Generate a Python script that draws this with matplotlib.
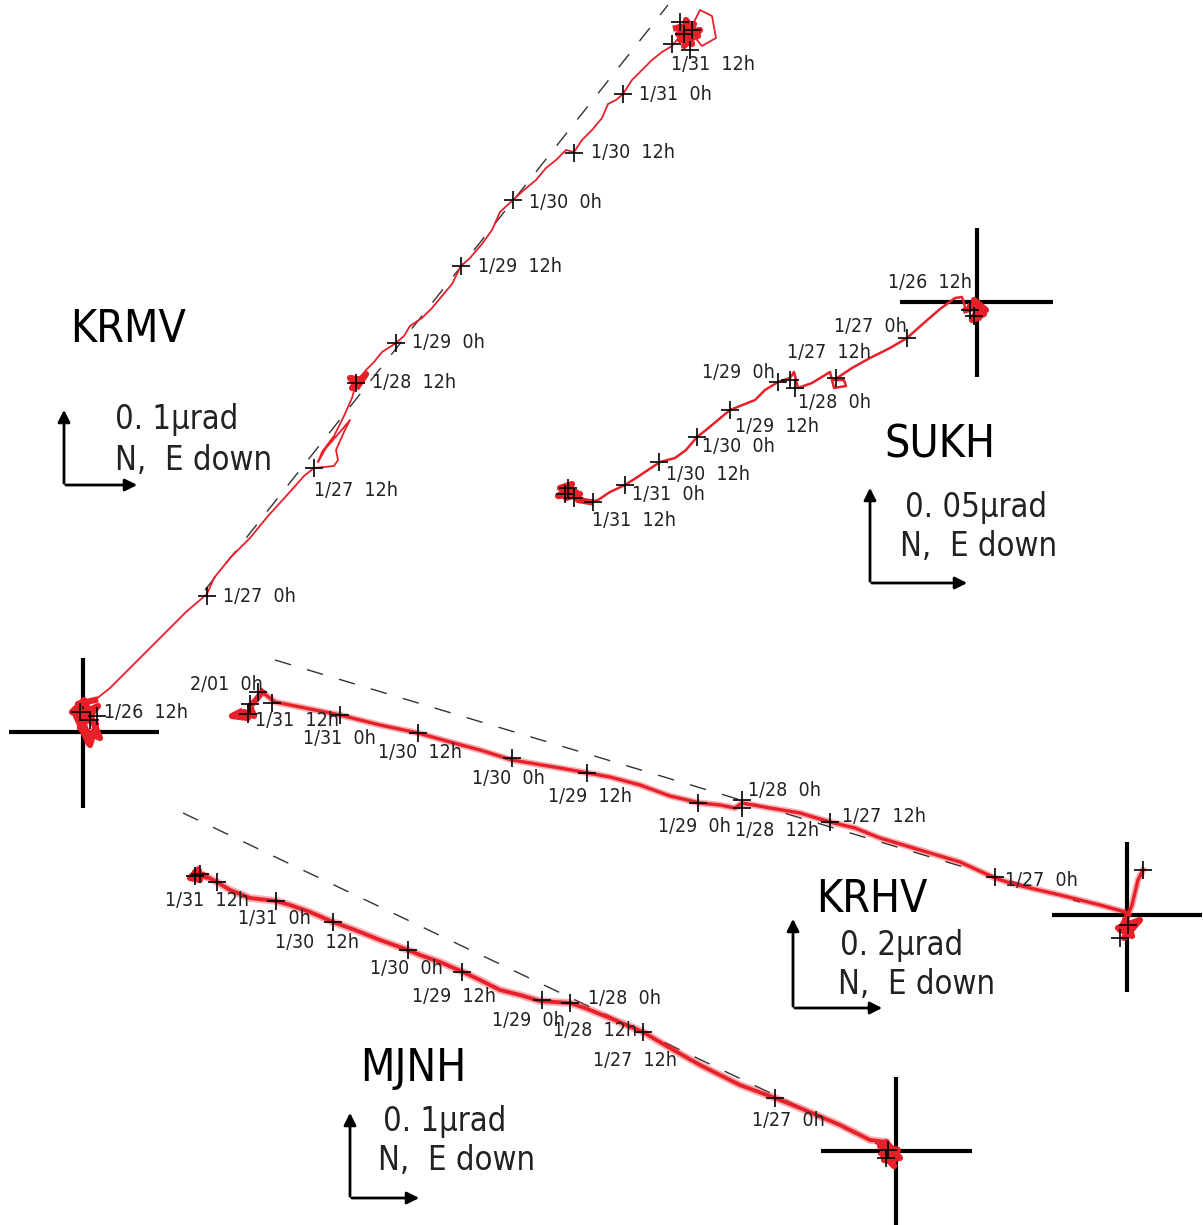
import matplotlib.pyplot as plt
from matplotlib import font_manager

# *********************
# DATA (positions, pixel space, y down)
# *********************
krmv_trace = [(95, 700), (110, 688), (122, 676), (132, 666), (150, 648),
              (168, 630), (186, 612), (200, 600), (207, 594), (214, 578), (230, 558), (250, 538),
              (268, 516), (288, 494), (304, 476), (314, 468), (334, 466), (338, 460), (336, 450),
              (344, 432), (350, 420), (340, 432), (326, 448), (318, 462), (322, 452), (334, 436),
              (344, 416), (352, 398), (356, 384), (366, 370),
              (374, 362), (382, 352), (396, 343), (404, 336), (410, 326), (422, 318), (432, 308),
              (442, 296), (452, 284), (461, 266), (470, 258), (482, 244), (492, 230), (500, 212),
              (513, 200), (524, 190), (536, 180), (546, 168), (556, 160), (566, 150), (574, 152),
              (582, 140), (592, 130), (602, 118), (608, 104), (616, 100), (623, 94), (632, 80),
              (642, 70), (652, 60), (662, 52), (672, 46), (680, 36), (690, 30), (700, 10),
              (712, 16), (716, 38), (702, 46), (692, 34)]
krmv_blobs = [[(88, 742), (76, 716), (98, 706), (80, 728), (100, 738), (84, 700), (72, 712),
               (96, 724), (90, 745), (78, 704), (95, 700)],
              [(356, 384), (350, 378), (362, 380), (352, 388), (366, 374), (358, 386)],
              [(676, 28), (694, 24), (680, 40), (698, 36), (686, 20), (692, 44), (678, 34),
               (700, 30), (684, 46), (690, 30)]]
krmv_ticks = [(80, 712), (90, 720), (97, 716), (207, 596), (314, 468), (356, 383), (396, 343),
              (461, 266), (513, 200), (574, 153), (623, 94), (672, 44), (690, 50), (680, 22),
              (692, 30), (684, 34)]
krmv_labels = ['1/26  12h', '1/27  0h', '1/27  12h', '1/28  12h', '1/29  0h', '1/29  12h',
               '1/30  0h', '1/30  12h', '1/31  0h', '1/31  12h']
krmv_label_xy = [(104, 712), (223, 596), (314, 490), (372, 382), (412, 343), (478, 266),
                 (529, 202), (591, 153), (639, 94), (671, 64)]

sukh_trace = [(590, 502), (598, 500), (610, 492), (625, 485), (636, 478), (648, 470),
              (660, 462), (675, 458), (686, 450), (697, 437), (706, 430), (718, 420), (730, 410),
              (745, 404), (755, 400), (765, 390), (778, 382), (790, 378), (794, 372), (798, 388),
              (812, 383), (830, 372), (834, 388), (846, 386), (844, 380), (834, 380), (852, 368),
              (870, 358), (890, 348), (907, 338), (925, 322), (940, 309), (955, 298), (962, 297),
              (966, 310)]
sukh_blobs = [[(575, 492), (560, 488), (572, 484), (566, 498), (580, 494), (558, 496), (570, 488),
               (578, 500), (590, 502)],
              [(966, 310), (980, 306), (972, 320), (984, 314), (970, 306), (986, 310), (974, 300),
               (978, 318)]]
sukh_ticks = [(970, 310), (974, 316), (907, 338), (836, 378), (790, 380), (795, 388), (778, 382),
              (730, 410), (697, 437), (659, 462), (625, 485), (593, 502), (568, 488), (565, 494),
              (574, 498)]
sukh_labels = ['1/26  12h', '1/27  0h', '1/27  12h', '1/29  0h', '1/28  0h', '1/29  12h',
               '1/30  0h', '1/30  12h', '1/31  0h', '1/31  12h']
sukh_label_xy = [(888, 283), (834, 326), (787, 353), (702, 373), (798, 403), (735, 426),
                 (702, 447), (666, 475), (632, 494), (592, 520)]

krhv_trace = [(1143, 870), (1138, 880), (1132, 905), (1128, 915), (1125, 912), (1100, 905),
              (1060, 895), (1030, 888), (1010, 883), (995, 878), (960, 862), (920, 850),
              (880, 838), (855, 828), (830, 822), (800, 813), (770, 808), (742, 803), (735, 808),
              (720, 805), (700, 803), (670, 796), (640, 785), (610, 777), (588, 773), (560, 768),
              (530, 763), (512, 760), (480, 750), (450, 742), (418, 733), (380, 725), (340, 715),
              (300, 707), (275, 702), (262, 692)]
krhv_blobs = [[(262, 692), (256, 700), (250, 706), (254, 716), (244, 712), (248, 718),
               (232, 716), (240, 712)],
              [(1128, 915), (1120, 930), (1135, 925), (1124, 938), (1140, 920), (1118, 928),
               (1132, 936), (1126, 920)]]
krhv_ticks = [(1143, 870), (1120, 938), (1128, 925), (995, 877), (830, 822), (742, 800),
              (742, 808), (698, 803), (587, 773), (512, 758), (418, 733), (340, 715),
              (272, 703), (258, 692), (250, 704), (248, 714)]
krhv_labels = ['2/01  0h', '1/31  12h', '1/31  0h', '1/30  12h', '1/30  0h', '1/29  12h',
               '1/29  0h', '1/28  12h', '1/28  0h', '1/27  12h', '1/27  0h']
krhv_label_xy = [(190, 684), (255, 721), (303, 739), (378, 753), (472, 779), (548, 797),
                 (658, 827), (735, 830), (748, 791), (842, 817), (1005, 880)]

mjnh_trace = [(886, 1142), (870, 1140), (840, 1125), (800, 1108), (775, 1098), (740, 1085),
              (700, 1065), (670, 1048), (643, 1032), (610, 1018), (585, 1008), (570, 1003),
              (555, 1002), (540, 1001), (520, 995), (500, 990), (480, 980), (463, 972),
              (440, 962), (420, 955), (408, 950), (380, 940), (355, 930), (333, 922),
              (310, 912), (290, 905), (276, 901), (250, 898), (230, 890), (217, 882),
              (205, 876)]
mjnh_blobs = [[(205, 876), (195, 872), (200, 880), (190, 878), (198, 870)],
              [(892, 1162), (880, 1146), (898, 1150), (884, 1160), (900, 1158), (886, 1142),
               (894, 1166), (882, 1154)]]
mjnh_ticks = [(888, 1150), (886, 1158), (775, 1098), (643, 1032), (570, 1003), (542, 1000),
              (462, 972), (408, 950), (333, 922), (276, 901), (217, 882), (195, 876), (200, 874)]
mjnh_labels = ['1/31  12h', '1/31  0h', '1/30  12h', '1/30  0h', '1/29  12h', '1/29  0h',
               '1/28  0h', '1/28  12h', '1/27  12h', '1/27  0h']
mjnh_label_xy = [(165, 900), (238, 919), (275, 943), (370, 968), (412, 997), (492, 1020),
                 (588, 998), (553, 1030), (593, 1060), (752, 1120)]

# dashed trend lines
dash_lines = [[(205, 590), (668, 5)], [(275, 660), (1080, 902)], [(183, 813), (890, 1150)]]

# crosshair origins: (x, y, left, right, up, down)
crosshairs = [(83, 732, 74, 76, 74, 76), (977, 302, 77, 76, 74, 75),
              (1127, 915, 75, 75, 73, 77), (896, 1151, 75, 76, 74, 80)]

stations = ['KRMV', 'SUKH', 'KRHV', 'MJNH']
station_xy = [(128, 330), (940, 445), (872, 900), (413, 1068)]
scales = ['0. 1\u03bcrad', '0. 05\u03bcrad', '0. 2\u03bcrad', '0. 1\u03bcrad']
scale_xy = [(115, 420), (905, 508), (840, 945), (383, 1122)]
dir_xy = [(115, 460), (900, 546), (838, 985), (378, 1160)]
# scale arrow corners: (x, y, up length, right length)
arrow_corner = [(64, 485, 78, 76), (870, 583, 98, 100), (793, 1008, 92, 92), (350, 1198, 88, 72)]

# *********************
# FONT: look for a condensed face, else plain DejaVu
# *********************
cond = None
for f in font_manager.fontManager.ttflist:
    nm = f.name.lower()
    if ('narrow' in nm or 'condensed' in nm or str(f.stretch) in ('condensed', 'semi-condensed')) \
            and f.style == 'normal' and f.weight in (400, 'normal', 'regular', 500, 'medium'):
        cond = f.fname
        break
if cond:
    FP = font_manager.FontProperties(fname=cond)
    lab_fs, ttl_fs, sc_fs = 14, 32, 23.5
else:
    FP = font_manager.FontProperties(family='DejaVu Sans')
    lab_fs, ttl_fs, sc_fs = 12.5, 28, 21

RED = '#e8202a'
TXT = '#222222'

fig = plt.figure(figsize=(12.03, 12.25), dpi=100)
ax = fig.add_axes([0, 0, 1, 1])
ax.set_xlim(0, 1203)
ax.set_ylim(1225, 0)
ax.axis('off')

for line in dash_lines:
    xs, ys = zip(*line)
    ax.plot(xs, ys, color='#333333', lw=1.0, dashes=(12, 12), zorder=1)

for x, y, l, r, u, d in crosshairs:
    ax.plot([x - l, x + r], [y, y], color='black', lw=3, zorder=2, solid_capstyle='butt')
    ax.plot([x, x], [y - u, y + d], color='black', lw=3, zorder=2, solid_capstyle='butt')

for trace, lw in [(krmv_trace, 1.3), (sukh_trace, 1.8), (krhv_trace, 2.4), (mjnh_trace, 2.8)]:
    xs, ys = zip(*trace)
    if lw > 2:
        ax.plot(xs, ys, color=RED, lw=lw * 2, alpha=0.35, zorder=3, solid_joinstyle='round')
    ax.plot(xs, ys, color=RED, lw=lw, zorder=3, solid_joinstyle='round')

for blobs in [krmv_blobs, sukh_blobs, krhv_blobs, mjnh_blobs]:
    for b in blobs:
        xs, ys = zip(*b)
        ax.plot(xs, ys, color=RED, lw=4.5, zorder=3, solid_joinstyle='round')

for ticks in [krmv_ticks, sukh_ticks, krhv_ticks, mjnh_ticks]:
    xs, ys = zip(*ticks)
    ax.plot(xs, ys, ls='none', marker='+', ms=13, mew=1.2, color='black', zorder=4)

for labels, pos in [(krmv_labels, krmv_label_xy), (sukh_labels, sukh_label_xy),
                    (krhv_labels, krhv_label_xy), (mjnh_labels, mjnh_label_xy)]:
    for lab, (x, y) in zip(labels, pos):
        ax.text(x, y, lab, fontproperties=FP, fontsize=lab_fs, color=TXT,
                ha='left', va='center', zorder=5)

for name, (x, y) in zip(stations, station_xy):
    ax.text(x, y, name, fontproperties=FP, fontsize=ttl_fs, color='black',
            ha='center', va='center')

for s, (x, y) in zip(scales, scale_xy):
    ax.text(x, y, s, fontproperties=FP, fontsize=sc_fs, color=TXT, ha='left', va='center')
for (x, y) in dir_xy:
    ax.text(x, y, 'N,  E down', fontproperties=FP, fontsize=sc_fs, color=TXT,
            ha='left', va='center')

for x, y, up, right in arrow_corner:
    ax.annotate('', xy=(x, y - up), xytext=(x, y + 1),
                arrowprops=dict(arrowstyle='-|>', lw=2, color='black', mutation_scale=18))
    ax.annotate('', xy=(x + right, y), xytext=(x - 1, y),
                arrowprops=dict(arrowstyle='-|>', lw=2, color='black', mutation_scale=18))

fig.savefig('out.png', dpi=100)
